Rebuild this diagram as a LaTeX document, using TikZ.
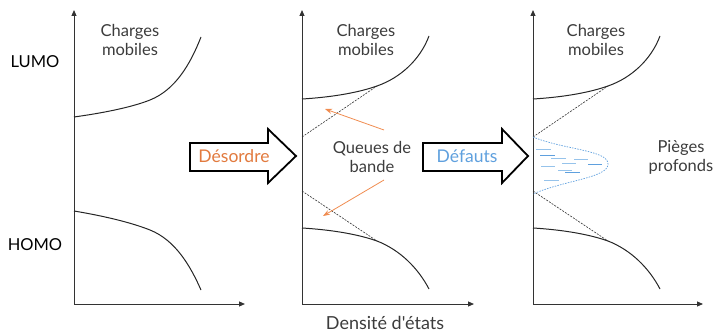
\documentclass[tikz,border=0pt]{standalone}
\usepackage{fontspec}
\setmainfont{Lato}[Ligatures=TeXOff]
\usepackage{xcolor}
\usetikzlibrary{arrows.meta, positioning, calc}

\definecolor{txtgray}{RGB}{60,60,60}
\definecolor{desorange}{RGB}{226,122,62}
\definecolor{defblue}{RGB}{95,160,222}
\definecolor{trapblue}{RGB}{150,195,235}
\definecolor{orangearrow}{RGB}{240,140,80}

\begin{document}
\begin{tikzpicture}[
		x=1pt, y=-1pt,
		axis/.style={line width=1pt, draw=black!80, -{Triangle[length=6pt, width=5pt]}},
		band/.style={line width=1pt, draw=black!85},
		tail/.style={line width=0.6pt, draw=black!80, dash pattern=on 2pt off 1.2pt},
		label/.style={text=txtgray, font=\fontsize{16.5}{19}\selectfont, align=center},
		level/.style={text=black, font=\fontsize{16.5}{19}\selectfont},
		blockarrow/.style={line width=1.8pt, draw=black, fill=white, line join=miter},
		pointer/.style={line width=0.8pt, draw=orangearrow, -{Stealth[length=7pt, width=5pt]}},
		trap/.style={line width=0.9pt, draw=#1}
		]
		\useasboundingbox (0,0) rectangle (713,334);
		
		% Axes of the three panels
		\foreach \ox/\xend in {74/245, 302/474, 533/703} {
			\draw[axis] (\ox,304) -- (\ox,10);
			\draw[axis] (\ox,304) -- (\xend,304);
		}
		
		% Panel 1: ordered material
		\draw[band] (74,117) .. controls (110,112) and (135,106) .. (150,100) .. controls (175,90) and (190,65) .. (201,37);
		\draw[band] (74,211) .. controls (110,217) and (135,224) .. (150,230) .. controls (175,240) and (190,265) .. (201,290);
		\node[label] (mob1) at (130,40) {Charges\\mobiles};
		\node[level] (lumo) at (35,62) {LUMO};
		\node[level] (homo) at (35,245) {HOMO};
		
		% Panels 2 and 3: band tails
		\foreach \dx in {0, 231} {
			\draw[band] (302+\dx,99) .. controls (335+\dx,97) and (360+\dx,92) .. (377+\dx,86) .. controls (400+\dx,78) and (420+\dx,60) .. (429+\dx,36);
			\draw[band] (302+\dx,228) .. controls (335+\dx,230) and (360+\dx,235) .. (377+\dx,241) .. controls (400+\dx,250) and (418+\dx,268) .. (429+\dx,289);
			\draw[tail] (302+\dx,137) -- (377+\dx,86);
			\draw[tail] (302+\dx,191) -- (377+\dx,241);
		}
		\node[label] (mob2) at (366,40) {Charges\\mobiles};
		\node[label] (mob3) at (596,40) {Charges\\mobiles};
		
		% Band tail labels with pointers
		\node[label] (queues) at (372,157) {Queues de\\bande};
		\coordinate (tailup) at (325,109);
		\coordinate (taildown) at (323,216);
		\draw[pointer] (384,130) -- (tailup);
		\draw[pointer] (384,180) -- (taildown);
		
		% Deep traps distribution
		\draw[defblue, line width=0.7pt, dash pattern=on 1.5pt off 1.2pt]
			(533,137) .. controls (565,150) and (608,150) .. (608,164) .. controls (608,178) and (565,180) .. (533,194);
		\foreach \xa/\xb/\yy/\cc in {536/551/149/trapblue, 540/555/155/defblue, 551/566/158/trapblue,
			574/588/159/trapblue, 562/576/163/trapblue, 588/602/164/defblue, 541/555/166/trapblue,
			558/572/170/trapblue, 565/580/172/defblue, 544/559/180/trapblue}
			\draw[trap=\cc] (\xa,\yy) -- (\xb,\yy);
		\node[label] (pieges) at (681,157) {Pièges\\profonds};
		
		% Block arrows between panels
		\draw[blockarrow] (190,143) -- (268,143) -- (268,129) -- (296,156) -- (268,183) -- (268,171) -- (190,171) -- cycle;
		\node[level, text=desorange, font=\fontsize{17.5}{19}\selectfont] (desordre) at (234,156) {Désordre};
		\draw[blockarrow] (423,143) -- (502,143) -- (502,129) -- (528,156) -- (502,183) -- (502,171) -- (423,171) -- cycle;
		\node[level, text=defblue, font=\fontsize{17.5}{19}\selectfont] (defauts) at (467,156) {Défauts};
		
		% Horizontal axis title
		\node[level, text=txtgray, font=\fontsize{18}{19}\selectfont] (dos) at (385,323) {Densité d'états};
	\end{tikzpicture}
\end{document}
